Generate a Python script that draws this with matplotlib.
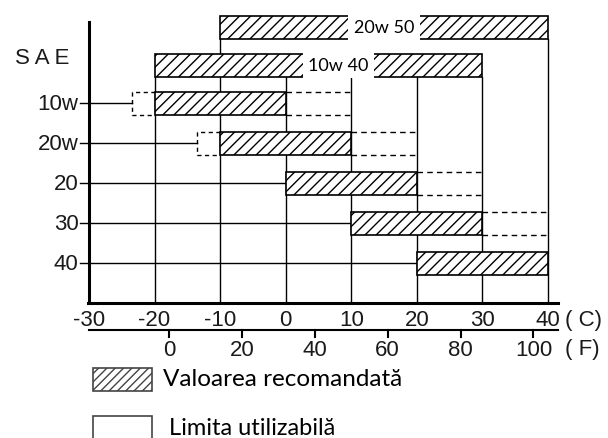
import matplotlib
matplotlib.use('Agg')
import matplotlib.pyplot as plt
from matplotlib.patches import Rectangle

# SAE grades and their temperature ranges (deg C)
grades = ['10w', '20w', '20', '30', '40']
rec_lo = [-20, -10, 0, 10, 20]
rec_hi = [0, 10, 20, 30, 40]
use_lo = [-23.5, -13.5, 0, 10, 20]
use_hi = [10, 20, 30, 40, 40]

# multigrade oils
multi_grades = ['10w 40', '20w 50']
multi_lo = [-20, -10]
multi_hi = [30, 40]

c_ticks = [-30, -20, -10, 0, 10, 20, 30, 40]
f_ticks = [0, 20, 40, 60, 80, 100]

legend_labels = ['Valoarea recomandată', 'Limita utilizabilă']

AX_FONT = 'Liberation Sans'
TXT_FONT = 'Lato'
INK = '#1a1a1a'

fig = plt.figure(figsize=(6.08, 4.39), dpi=100)
ax = fig.add_axes([0, 0, 1, 1])
ax.set_xlim(-43.57, 49.15)
ax.set_ylim(8.375, -2.6)
ax.axis('off')

h = 0.575
rows = list(range(len(grades)))
multi_y = [-0.95, -1.9]
x_axis_y = 5.0
f_axis_y = 5.675

# vertical grid lines
for c in c_ticks[1:]:
    top = multi_y[0] + h / 2
    for yb, lo, hi in zip(multi_y, multi_lo, multi_hi):
        if c in (lo, hi):
            top = min(top, yb + h / 2)
    ax.plot([c, c], [top, x_axis_y], color='black', lw=1.0, zorder=1)

# row lines from the y axis
for i in rows:
    ax.plot([-31.3, use_lo[i]], [i, i], color='black', lw=1.0, zorder=1)
    ax.text(-31.6, i, grades[i], ha='right', va='center', fontsize=16,
            family=AX_FONT, color=INK)

# recommended ranges
widths = [hi - lo for lo, hi in zip(rec_lo, rec_hi)]
ax.barh(rows, widths, left=rec_lo, height=h, color='white', edgecolor='black',
        hatch='///', lw=1.2, zorder=2)

# usable limits (dashed)
for i in rows:
    y0, y1 = i - h / 2, i + h / 2
    if use_hi[i] > rec_hi[i]:
        for yy in (y0, y1):
            ax.plot([rec_hi[i], use_hi[i]], [yy, yy], color='black', lw=1.0,
                    ls=(0, (4, 3)), zorder=2)
    if use_lo[i] < rec_lo[i]:
        ax.plot([rec_lo[i], use_lo[i], use_lo[i], rec_lo[i]], [y0, y0, y1, y1],
                color='black', lw=1.0, ls=(0, (3, 2.5)), zorder=2)

# multigrade bars
mw = [hi - lo for lo, hi in zip(multi_lo, multi_hi)]
ax.barh(multi_y, mw, left=multi_lo, height=h, color='white', edgecolor='black',
        hatch='///', lw=1.2, zorder=2)
for yb, lo, hi, name, dx in zip(multi_y, multi_lo, multi_hi, multi_grades, [3, 0]):
    ax.text((lo + hi) / 2 + dx, yb, name, ha='center', va='center', fontsize=13,
            family=TXT_FONT, zorder=4,
            bbox=dict(boxstyle='square,pad=0.3', fc='white', ec='none'))

# axes
ax.plot([-30, -30], [-2.025, x_axis_y], color='black', lw=2.2, zorder=3)
ax.plot([-30.2, 41.5], [x_axis_y, x_axis_y], color='black', lw=2.2, zorder=3)
ax.plot([-30, 41.5], [f_axis_y, f_axis_y], color='black', lw=1.5, zorder=3)
ax.text(-37.1, -1.15, 'S A E', ha='center', va='center', fontsize=16,
        family=AX_FONT, color=INK)

for c in c_ticks:
    ax.text(c, 5.42, str(c), ha='center', va='center', fontsize=16,
            family=AX_FONT, color=INK)
ax.text(42.6, 5.42, '( C)', ha='left', va='center', fontsize=16,
        family=AX_FONT, color=INK)

for f in f_ticks:
    c = (f - 32) * 5 / 9
    ax.plot([c, c], [f_axis_y, f_axis_y + 0.17], color='black', lw=1.5)
    ax.text(c, 6.15, str(f), ha='center', va='center', fontsize=16,
            family=AX_FONT, color=INK)
ax.text(42.6, 6.15, '( F)', ha='left', va='center', fontsize=16,
        family=AX_FONT, color=INK)

# legend
ax.add_patch(Rectangle((-29.4, 6.625), 9, 0.575, facecolor='white',
                       edgecolor='#444444', hatch='////', lw=1.2))
ax.text(-18.7, 6.88, legend_labels[0], ha='left', va='center', fontsize=17.5,
        family=TXT_FONT)
ax.add_patch(Rectangle((-29.4, 7.825), 9, 1.0, facecolor='white',
                       edgecolor='#444444', lw=1.2))
ax.text(-17.8, 8.12, legend_labels[1], ha='left', va='center', fontsize=17,
        family=TXT_FONT)

fig.savefig('out.png', dpi=100)
